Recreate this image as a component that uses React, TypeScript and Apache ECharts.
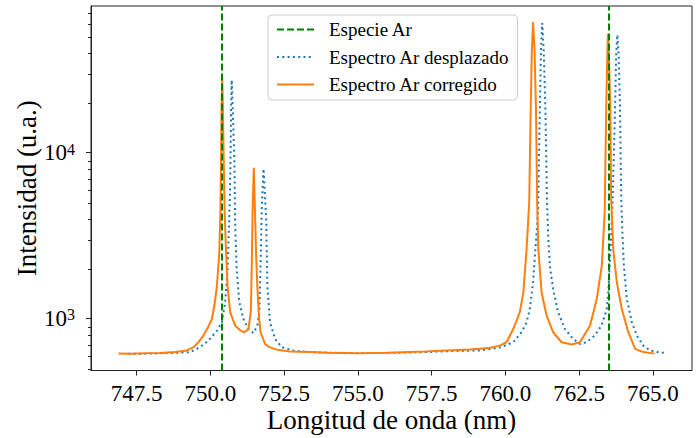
import React, { useEffect, useRef } from "react";
import * as echarts from "echarts";

const FONT = "Liberation Serif";

// Ar reference lines (nm)
const arLines = [750.387, 763.511];

// Corrected spectrum
const wlCorregido = [
  746.88, 747.3, 747.8, 748.3, 748.8, 749.2, 749.43, 749.6, 749.76, 749.9, 750.05, 750.15, 750.22, 750.3,
  750.34, 750.36, 750.38, 750.4, 750.42, 750.45, 750.48, 750.52, 750.58, 750.67, 750.84, 751.0, 751.12,
  751.22, 751.29, 751.37, 751.4, 751.43, 751.47, 751.51, 751.55, 751.59, 751.65, 751.7, 751.85, 752.0,
  752.25, 752.7, 753.4, 754.0, 755.0, 756.0, 757.26, 758.0, 758.8, 759.13, 759.5, 759.81, 760.04, 760.27,
  760.49, 760.61, 760.72, 760.81, 760.86, 760.9, 760.94, 760.99, 761.04, 761.08, 761.12, 761.23, 761.4,
  761.62, 761.91, 762.25, 762.53, 762.87, 763.1, 763.27, 763.37, 763.42, 763.46, 763.48, 763.51, 763.56,
  763.59, 763.66, 763.78, 763.95, 764.17, 764.4, 764.68, 765.06,
];
const intCorregido = [
  612, 610, 615, 618, 625, 640, 670, 720, 786, 870, 990, 1250, 1570, 2490,
  4500, 9080, 20000, 28000, 20000, 9080, 4500, 2800, 1570, 1087, 903, 850, 824,
  840, 862, 1100, 2000, 4500, 8100, 4500, 2400, 1570, 1000, 824, 700, 670,
  647, 630, 625, 620, 616, 620, 630, 640, 648, 654, 665, 684, 717, 862,
  1087, 1430, 2610, 5000, 18200, 42000, 61500, 42000, 18200, 5000, 2610, 1430, 1037,
  824, 717, 694, 717, 903, 1306, 2070, 4400, 18200, 40000, 52300, 40000, 18200,
  5200, 2610, 1650, 1137, 824, 654, 625, 612,
];

// Shifted spectrum
const wlDesplazado = [
  747.22, 747.8, 748.3, 748.8, 749.31, 749.65, 749.93, 750.22, 750.39, 750.5, 750.58, 750.63, 750.66,
  750.68, 750.7, 750.72, 750.75, 750.81, 750.84, 750.89, 750.98, 751.12, 751.29, 751.46, 751.59, 751.66,
  751.71, 751.74, 751.8, 751.85, 751.89, 751.93, 752.02, 752.19, 752.42, 752.81, 753.38, 754.0, 755.0,
  756.0, 757.3, 758.2, 759.13, 759.8, 760.27, 760.55, 760.72, 760.83, 760.94, 761.06, 761.11, 761.17,
  761.21, 761.25, 761.3, 761.36, 761.41, 761.45, 761.51, 761.62, 761.79, 762.02, 762.3, 762.53, 762.75,
  763.03, 763.26, 763.44, 763.49, 763.57, 763.64, 763.72, 763.76, 763.8, 763.84, 763.89, 763.93, 763.97,
  764.02, 764.12, 764.29, 764.46, 764.68, 764.91, 765.15, 765.4,
];
const intDesplazado = [
  610, 612, 615, 618, 625, 670, 733, 842, 947, 1250, 1980, 3600, 5500,
  9080, 18000, 27500, 20000, 9080, 3600, 1980, 1250, 990, 862, 815, 903, 1100,
  2500, 4540, 8000, 5500, 4000, 1570, 947, 751, 670, 639, 625, 620, 616,
  618, 625, 635, 639, 665, 717, 824, 947, 1137, 1650, 3290, 4540, 18200,
  42000, 60600, 42000, 18200, 5200, 3290, 2070, 1500, 1087, 862, 751, 700, 717,
  786, 903, 1137, 1430, 2610, 5200, 18200, 40000, 51500, 40000, 18200, 5200, 3290,
  2070, 1306, 947, 786, 684, 639, 625, 618,
];

const xTicks = [747.5, 750.0, 752.5, 755.0, 757.5, 760.0, 762.5, 765.0];
const yMajor = [1000, 10000];
const yMinor = [
  500, 600, 700, 800, 900, 2000, 3000, 4000, 5000, 6000, 7000, 8000, 9000, 20000, 30000, 40000, 50000,
  60000, 70000,
];

const X_MIN = 745.95;
const X_MAX = 766.33;
const Y_MIN = 484;
const Y_MAX = 76900;

export default function App() {
  const ref = useRef<HTMLDivElement>(null);

  useEffect(() => {
    if (!ref.current) return;
    const chart = echarts.init(ref.current, null, { renderer: "svg" });
    const axisColor = "#222";
    const gridBox = { left: 91, top: 6, right: 8, bottom: 66 };
    const option: any = {
      animation: false,
      backgroundColor: "#fff",
      textStyle: { fontFamily: FONT },
      grid: [
        {
          ...gridBox,
          show: true,
          borderColor: axisColor,
          borderWidth: 1,
          backgroundColor: "transparent",
        },
        { ...gridBox, show: false },
      ],
      legend: {
        orient: "vertical",
        left: 268,
        top: 15,
        padding: [5, 8, 6, 8],
        itemGap: 8.5,
        itemWidth: 37,
        itemHeight: 14,
        backgroundColor: "rgba(255,255,255,0.8)",
        borderColor: "#cccccc",
        borderWidth: 1,
        borderRadius: 4,
        itemStyle: { color: "rgba(0,0,0,0)", borderWidth: 0, opacity: 0 },
        textStyle: { fontFamily: FONT, fontSize: 19, color: "#000", padding: [0, 0, 0, 10] },
        data: ["Especie Ar", "Espectro Ar desplazado", "Espectro Ar corregido"],
      },
      xAxis: [
        {
          type: "value",
          gridIndex: 0,
          min: X_MIN,
          max: X_MAX,
          name: "Longitud de onda (nm)",
          nameLocation: "middle",
          nameGap: 37,
          nameMoveOverlap: false,
          nameTextStyle: { fontFamily: FONT, fontSize: 27, lineHeight: 24, color: "#000" },
          axisLine: { show: true, lineStyle: { color: axisColor, width: 1 } },
          axisTick: { show: true, length: 5, customValues: xTicks, lineStyle: { color: axisColor } },
          axisLabel: {
            customValues: xTicks,
            formatter: (v: number) => v.toFixed(1),
            fontFamily: FONT,
            fontSize: 23,
            lineHeight: 18,
            color: "#000",
            margin: 14,
          },
          splitLine: { show: false },
        },
        {
          type: "value",
          gridIndex: 1,
          min: X_MIN,
          max: X_MAX,
          show: false,
        },
      ],
      yAxis: [
        {
          type: "log",
          logBase: 10,
          gridIndex: 0,
          position: "left",
          min: Y_MIN,
          max: Y_MAX,
          name: "Intensidad (u.a.)",
          nameLocation: "middle",
          nameGap: 51,
          nameMoveOverlap: false,
          nameTextStyle: { fontFamily: FONT, fontSize: 27, color: "#000" },
          axisLine: { show: true, lineStyle: { color: axisColor, width: 1 } },
          axisTick: { show: true, length: 5, customValues: yMajor, lineStyle: { color: axisColor } },
          axisLabel: {
            customValues: yMajor,
            margin: 16,
            formatter: (v: number) => "{b|10}{s|" + Math.round(Math.log10(v)) + "}",
            rich: {
              b: { fontFamily: FONT, fontSize: 23, lineHeight: 23, color: "#000", padding: [4, 0, 0, 0], verticalAlign: "bottom" },
              s: { fontFamily: FONT, fontSize: 16, lineHeight: 16, color: "#000", verticalAlign: "top" },
            },
          },
          splitLine: { show: false },
          minorTick: { show: false },
        },
        {
          type: "log",
          logBase: 10,
          gridIndex: 1,
          position: "left",
          min: Y_MIN,
          max: Y_MAX,
          axisLine: { show: false },
          axisTick: { show: true, length: 3, customValues: yMinor, lineStyle: { color: axisColor } },
          axisLabel: { show: false },
          splitLine: { show: false },
        },
      ],
      series: [
        {
          name: "Especie Ar",
          type: "line",
          data: [],
          symbol: "none",
          color: "#008000",
          lineStyle: { color: "#008000", width: 2, type: [7, 3] },
          markLine: {
            silent: true,
            symbol: ["none", "none"],
            label: { show: false },
            lineStyle: { color: "#008000", width: 2, type: [7, 3] },
            data: arLines.map((v) => ({ xAxis: v })),
          },
          z: 5,
        },
        {
          name: "Espectro Ar desplazado",
          type: "line",
          data: wlDesplazado.map((w, i) => [w, intDesplazado[i]]),
          symbol: "none",
          color: "#1f77b4",
          lineStyle: { color: "#1f77b4", width: 2, type: [2, 3.3], cap: "butt" },
          z: 3,
        },
        {
          name: "Espectro Ar corregido",
          type: "line",
          data: wlCorregido.map((w, i) => [w, intCorregido[i]]),
          symbol: "none",
          color: "#ff7f0e",
          lineStyle: { color: "#ff7f0e", width: 2 },
          z: 4,
        },
      ],
    };
    chart.setOption(option);
    return () => chart.dispose();
  }, []);

  return (
    <div
      ref={ref}
      style={{ position: "absolute", left: 0, top: 0, width: 700, height: 438, background: "#fff" }}
    />
  );
}
